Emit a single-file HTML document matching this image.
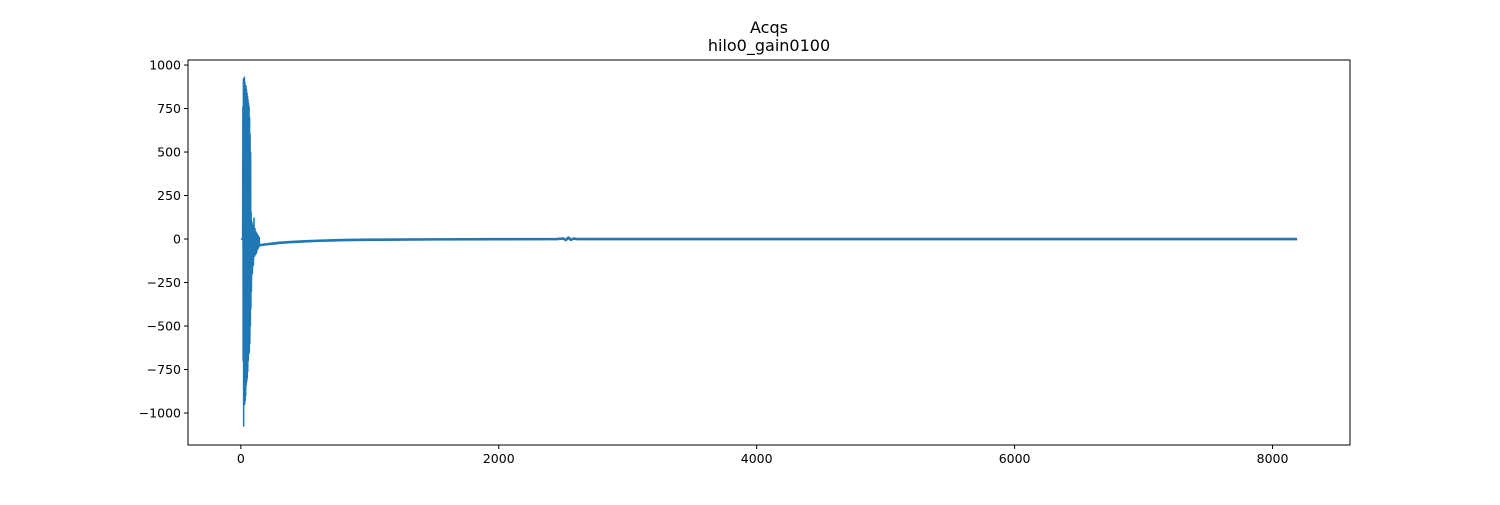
<!DOCTYPE html>
<html><head><meta charset="utf-8"><style>
body{margin:0;background:#fff;}
svg text{font-family:"DejaVu Sans","Liberation Sans",sans-serif;}
</style></head><body>
<svg id="chart" width="1500" height="500" xmlns="http://www.w3.org/2000/svg">
<rect width="1500" height="500" fill="#fff"/>
<text x="769" y="33" font-size="16" text-anchor="middle">Acqs</text>
<text x="769" y="51" font-size="16" text-anchor="middle">hilo0_gain0100</text>
<g id="plot"></g>
<rect x="188" y="60" width="1162" height="385" fill="none" stroke="#000" stroke-width="1"/>
</svg>
<script>
const xTicks=[0,2000,4000,6000,8000];
const yTicks=[-1000,-750,-500,-250,0,250,500,750,1000];
const spikeX=[0,10,14,16,18,20,22,24,26,28,30,32,34,36,38,40,42,44,46,48,50,52,54,56,58,60,62,64,66,68,70,72,74,76,78,80,82,86,90,94,98,102,106,110,114,118,122,126,130,134,138,142,146,150];
const spikeY=[0,0,-5,760,-700,920,-1075,910,-880,930,-950,900,-930,870,-900,880,-840,860,-820,840,-800,820,-760,800,-700,780,-660,760,-650,700,-600,600,-500,500,-400,150,-300,100,-200,80,-150,120,-100,60,-90,40,-80,30,-60,20,-50,10,-40,-35];
const tailX=[150,200,250,300,400,500,600,700,800,1000,1500,2000,2450,2500,2520,2540,2560,2580,2600,2700,3000,4000,5000,6000,7000,8000,8191];
const tailY=[-35,-30,-26,-22,-17,-13,-10,-8,-6,-4,-2,-1,0,3,-6,8,-5,3,0,0,0,0,0,0,0,0,0];
const X0=-409.55,X1=8600.55,Y0=-1184,Y1=1029;
const L=188,R=1350,T=60,B=445;
const xs=v=>L+(v-X0)/(X1-X0)*(R-L);
const ys=v=>B-(v-Y0)/(Y1-Y0)*(B-T);
const NS='http://www.w3.org/2000/svg';
const plot=document.getElementById('plot');
function mk(t,a){const e=document.createElementNS(NS,t);for(const k in a)e.setAttribute(k,a[k]);return e;}
xTicks.forEach(v=>{
 const g=mk('g',{});
 
 
 g.appendChild(mk('line',{x1:xs(v),x2:xs(v),y1:B,y2:B+4,stroke:'#000'}));
 const t=mk('text',{x:xs(v),y:B+18,'font-size':'12.5','text-anchor':'middle'});t.textContent=v;g.appendChild(t);
 plot.appendChild(g);
});
yTicks.forEach(v=>{
 const g=mk('g',{});
 
 
 g.appendChild(mk('line',{x1:L-4,x2:L,y1:ys(v),y2:ys(v),stroke:'#000'}));
 const t=mk('text',{x:L-7,y:ys(v)+4.5,'font-size':'12.5','text-anchor':'end'});t.textContent=v<0?'\u2212'+(-v):v;g.appendChild(t);
 plot.appendChild(g);
});
const spike=mk('polyline',{points:spikeX.map((x,i)=>xs(x)+','+ys(spikeY[i])).join(' '),fill:'none',stroke:'#1f77b4','stroke-width':'1.5','stroke-linejoin':'round'});


plot.appendChild(spike);
const tail=mk('polyline',{points:tailX.map((x,i)=>xs(x)+','+ys(tailY[i])).join(' '),fill:'none',stroke:'#1f77b4','stroke-width':'2.6','stroke-linejoin':'round'});


plot.appendChild(tail);
</script>
</body></html>
